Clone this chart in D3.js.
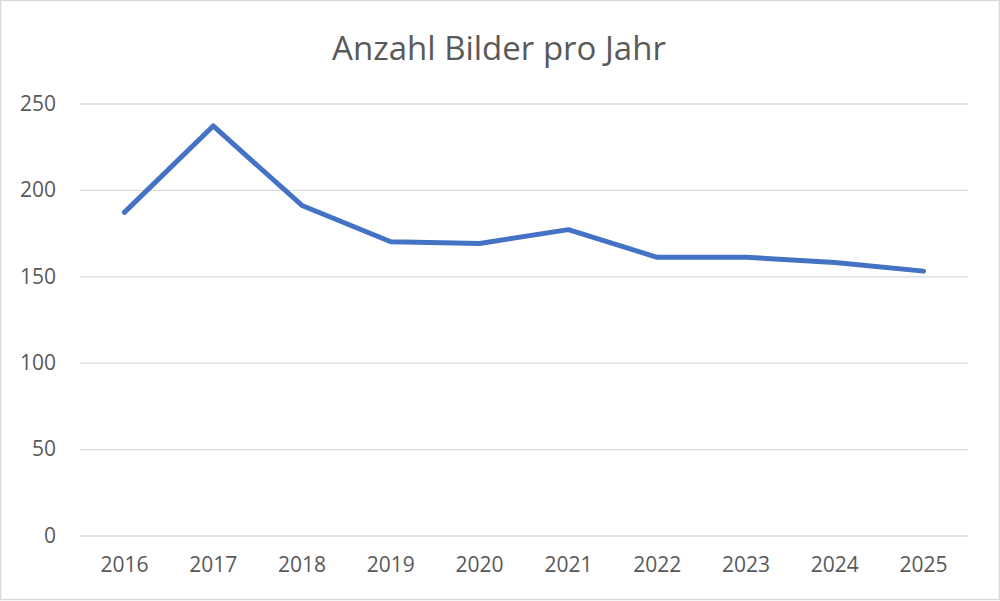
<!DOCTYPE html>
<html>
<head>
<meta charset="utf-8">
<script src="https://cdn.jsdelivr.net/npm/d3@7"></script>
<style>
  html, body { margin: 0; padding: 0; background: #fff; }
  svg { display: block; }
</style>
</head>
<body>
<svg id="chart" width="1000" height="601"></svg>
<script>
const title = "Anzahl Bilder pro Jahr";
const years = ["2016", "2017", "2018", "2019", "2020", "2021", "2022", "2023", "2024", "2025"];
const counts = [187, 237, 191, 170, 169, 177, 161, 161, 158, 153];
const yTicks = [0, 50, 100, 150, 200, 250];

const W = 1000, H = 601;
const margin = { left: 80, right: 32, top: 103.5, bottom: 65.5 };
const svg = d3.select("#chart");
const font = "'Open Sans', 'Liberation Sans', sans-serif";

// border
svg.append("rect").attr("x", 0.5).attr("y", 0.5).attr("width", W - 1).attr("height", H - 2)
  .attr("fill", "#fff").attr("stroke", "#d9d9d9").attr("stroke-width", 1.5);

const x = d3.scaleBand().domain(years).range([margin.left, W - margin.right]);
const y = d3.scaleLinear().domain([0, 250]).range([H - margin.bottom, margin.top]);

// gridlines
const yAxis = d3.axisLeft(y).tickValues(yTicks).tickSize(-(W - margin.right - margin.left)).tickPadding(24);
const gy = svg.append("g").attr("transform", `translate(${margin.left},0)`).call(yAxis);
gy.select(".domain").remove();
gy.selectAll(".tick line").attr("stroke", "#d9d9d9").attr("stroke-width", 1.3);
gy.selectAll(".tick text").attr("fill", "#595959").style("font-family", font).style("font-size", "21px");

// x axis labels
const xAxis = d3.axisBottom(x).tickSize(0).tickPadding(22);
const gx = svg.append("g").attr("transform", `translate(0,${H - margin.bottom})`).call(xAxis);
gx.select(".domain").remove();
gx.selectAll(".tick text").attr("fill", "#595959").style("font-family", font).style("font-size", "21px");

// line
const line = d3.line()
  .x((d, i) => x(years[i]) + x.bandwidth() / 2)
  .y(d => y(d));
svg.append("path").datum(counts)
  .attr("d", line)
  .attr("fill", "none")
  .attr("stroke", "#4472C4")
  .attr("stroke-width", 5)
  .attr("stroke-linecap", "round")
  .attr("stroke-linejoin", "round");

// title
svg.append("text").attr("x", 499).attr("y", 60)
  .attr("text-anchor", "middle")
  .attr("fill", "#595959")
  .style("font-family", font).style("font-size", "33px")
  .text(title);
</script>
</body>
</html>
